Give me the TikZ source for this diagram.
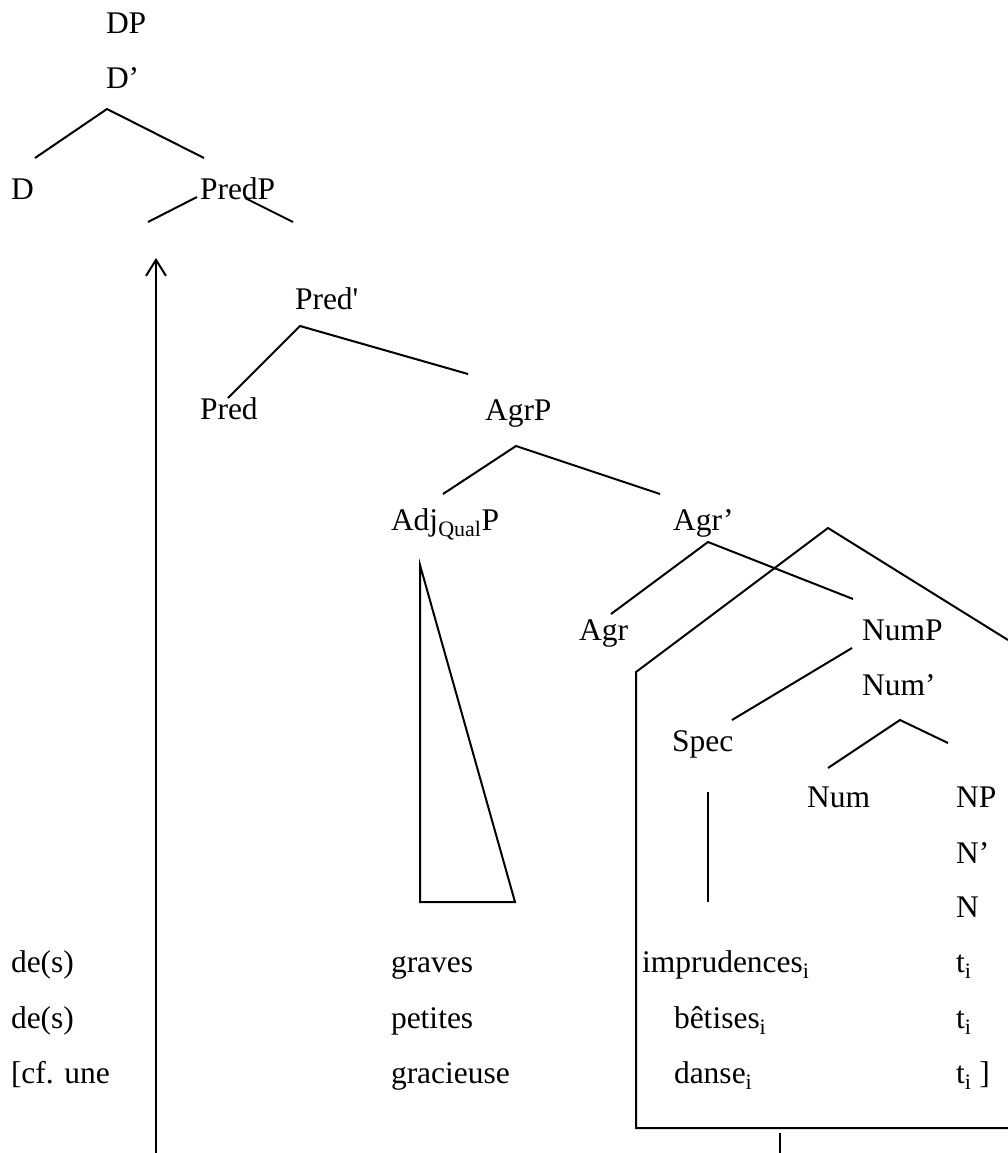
\documentclass[tikz,border=0pt]{standalone}
\usepackage{fontspec}
\setmainfont{Liberation Serif}
\usetikzlibrary{arrows.meta}
\tikzset{
  lab/.style={anchor=base west, inner sep=0pt, outer sep=0pt, font=\fontsize{31.5}{36}\selectfont},
  br/.style={line width=2pt, line cap=butt},
}
\newcommand{\sbs}[1]{\textsubscript{#1}}
\begin{document}
\begin{tikzpicture}[x=1pt,y=-1pt]
\useasboundingbox (0,0) rectangle (1008,1153);
% labels
\node[lab] (dp) at (106,34) {DP};
\node[lab] (dbar) at (106,89) {D’};
\node[lab] (d) at (11,199) {D};
\node[lab] (predp) at (200,199) {PredP};
\node[lab] (predbar) at (295,309) {Pred\textquotesingle};
\node[lab] (pred) at (200,419) {Pred};
\node[lab] (agrp) at (485,420) {AgrP};
\node[lab] (adjp) at (391,530) {Adj\sbs{Qual}P};
\node[lab] (agrbar) at (673,530) {Agr’};
\node[lab] (agr) at (579,640) {Agr};
\node[lab] (nump) at (862,640) {NumP};
\node[lab] (numbar) at (862,695) {Num’};
\node[lab] (spec) at (672,751) {Spec};
\node[lab] (num) at (807,807) {Num};
\node[lab] (np) at (956,807) {NP};
\node[lab] (nbar) at (956,863) {N’};
\node[lab] (n) at (956,917) {N};
% rows
\node[lab] (r1a) at (11,972) {de(s)};
\node[lab] (r1b) at (391,972) {graves};
\node[lab] (r1c) at (642,972) {imprudences\sbs{i}};
\node[lab] (r1d) at (956,972) {t\sbs{i}};
\node[lab] (r2a) at (11,1028) {de(s)};
\node[lab] (r2b) at (391,1028) {petites};
\node[lab] (r2c) at (674,1028) {bêtises\sbs{i}};
\node[lab] (r2d) at (956,1028) {t\sbs{i}};
\node[lab] (r3a) at (11,1083) {[cf. une};
\node[lab] (r3b) at (391,1083) {gracieuse};
\node[lab] (r3c) at (674,1083) {danse\sbs{i}};
\node[lab] (r3d) at (956,1083) {t\sbs{i} ]};
% branch coordinates
\coordinate (dA) at (107,109);
\coordinate (dL) at (35,158);
\coordinate (dR) at (204,158);
\coordinate (pL1) at (148,222);
\coordinate (pL2) at (197,197);
\coordinate (pR1) at (245,198);
\coordinate (pR2) at (293,222);
\coordinate (qA) at (300,326);
\coordinate (qL) at (228,398);
\coordinate (qR) at (468,374);
\coordinate (aA) at (516,446);
\coordinate (aL) at (443,494);
\coordinate (aR) at (660,494);
\coordinate (gA) at (708,542);
\coordinate (gL) at (611,614);
\coordinate (gR) at (853,599);
\coordinate (nS1) at (852,648);
\coordinate (nS2) at (732,720);
\coordinate (mA) at (900,720);
\coordinate (mL) at (828,768);
\coordinate (mR) at (948,743);
\coordinate (sT) at (708,792);
\coordinate (sB) at (708,902);
\coordinate (tA) at (420,565);
\coordinate (tL) at (420,902);
\coordinate (tR) at (515,902);
\coordinate (hA) at (828,528);
\coordinate (hL) at (636,672);
\coordinate (hBL) at (636,1128);
\coordinate (hBR) at (1008,1128);
\coordinate (hR) at (1008,640);
\coordinate (vT) at (780,1133);
\coordinate (vB) at (780,1153);
\coordinate (arT) at (156,258);
\coordinate (arB) at (156,1153);
% branches
\draw[br] (dL) -- (dA) -- (dR);
\draw[br] (pL1) -- (pL2);
\draw[br] (pR1) -- (pR2);
\draw[br] (qL) -- (qA) -- (qR);
\draw[br] (aL) -- (aA) -- (aR);
\draw[br] (gL) -- (gA) -- (gR);
\draw[br] (nS1) -- (nS2);
\draw[br] (mL) -- (mA) -- (mR);
\draw[br] (sT) -- (sB);
\draw[br, line join=miter] (tA) -- (tL) -- (tR) -- cycle;
\draw[br, line join=miter] (hR) -- (hA) -- (hL) -- (hBL) -- (hBR);
\draw[br] (vT) -- (vB);
\draw[br, -{Straight Barb[length=16pt,width=20pt,line width=2pt]}] (arB) -- (arT);
\end{tikzpicture}
\end{document}
